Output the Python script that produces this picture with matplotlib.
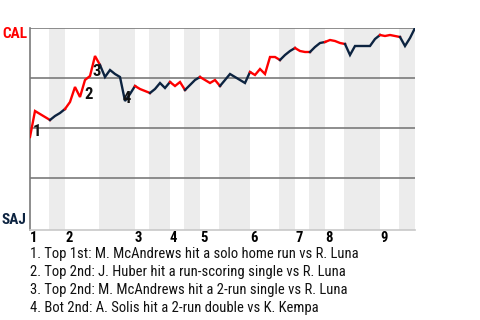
import matplotlib
matplotlib.use('Agg')
import matplotlib.pyplot as plt
from matplotlib import font_manager

# ==================== 数据 ====================
# CAL 胜率 (%)，每个打席一个点
cal_wp = [45.5, 58.5, 57, 55.5, 54, 56, 57.5, 59.5, 63, 70.5,
          65.5, 74, 76, 86, 81.5, 75.5, 79, 77, 75.5, 63.5,
          67, 71, 69.5, 68.5, 67.5, 69.5, 72.5, 70, 73, 71,
          73, 69, 71.5, 74, 75.5, 74, 72.5, 74, 71, 74,
          77, 75.5, 74, 72.5, 78, 76.5, 79.5, 77, 85.5, 85.5,
          84, 86.5, 88.5, 90, 88.5, 88, 88, 90.5, 92.5, 93,
          94, 93.5, 92.5, 92, 86.5, 91, 91, 91, 91, 94.5,
          96.5, 96, 96.5, 96, 95.5, 91, 95, 100]

# 每个半局结束时的打席序号（上半局/下半局交替）
half_inning_ends = [4, 7, 14, 21, 24, 28, 31, 34, 38, 44, 50, 53, 56, 59, 63, 70, 74, 77]
inning_labels = ['1', '2', '3', '4', '5', '6', '7', '8', '9']

# 关键事件：编号、标注所在打席序号
event_ids = ['1', '2', '3', '4']
event_idx = [0, 10, 12, 19]
event_notes = [
    '1. Top 1st: M. McAndrews hit a solo home run vs R. Luna',
    '2. Top 2nd: J. Huber hit a run-scoring single vs R. Luna',
    '3. Top 2nd: M. McAndrews hit a 2-run single vs R. Luna',
    '4. Bot 2nd: A. Solis hit a 2-run double vs K. Kempa',
]

away_team = 'CAL'
home_team = 'SAJ'

# ==================== 样式 ====================
red = '#ff0000'
navy = '#0c2340'
band = '#ececec'
label_offsets = [(5, 4), (6, 1.5), (5, 3), (1.5, 1.5)]   # 标注偏移 (pt)

available = {f.name for f in font_manager.fontManager.ttflist}
family = 'Roboto'
for cand in ['Roboto Condensed', 'Liberation Sans Narrow', 'Roboto']:
    if cand in available:
        family = cand
        break
plt.rcParams['font.family'] = [family, 'DejaVu Sans']

fig = plt.figure(figsize=(4.8, 3.2), dpi=100)
ax = fig.add_axes([30 / 480, 90 / 320, 385 / 480, 202 / 320])

n = len(cal_wp) - 1
ax.set_xlim(0, n)
ax.set_ylim(-1, 100)

# 下半局灰色底纹
starts = [0] + half_inning_ends[:-1]
for k, (s, e) in enumerate(zip(starts, half_inning_ends)):
    if k % 2 == 1:
        ax.axvspan(s - 0.2, e, color=band, lw=0, zorder=0)

for yv in [25, 50, 75, 100]:
    ax.axhline(yv, color='#7a7a7a', lw=1.2, zorder=1)

# 胜率曲线，上半局红色，下半局深蓝
for k, (s, e) in enumerate(zip(starts, half_inning_ends)):
    xs = list(range(s, e + 1))
    ys = cal_wp[s:e + 1]
    ax.plot(xs, ys, color=red if k % 2 == 0 else navy, lw=1.7,
            solid_joinstyle='miter', zorder=3)

for eid, i, off in zip(event_ids, event_idx, label_offsets):
    ax.annotate(eid, (i, cal_wp[i]), xytext=off, textcoords='offset points',
                ha='center', va='center', fontsize=12, fontweight='bold',
                color='#111111', zorder=4)

for sp in ['top', 'right']:
    ax.spines[sp].set_visible(False)
ax.spines['left'].set_color('#7a7a7a')
ax.spines['left'].set_linewidth(1.2)
ax.spines['bottom'].set_color('#c8c8c8')
ax.spines['bottom'].set_linewidth(1.2)

ax.set_yticks([])
top_starts = starts[0::2]
ax.set_xticks(top_starts)
ax.set_xticklabels(inning_labels, fontsize=10.5, fontweight='bold', ha='left')
ax.tick_params(axis='x', length=0, pad=1)

fig.text(2 / 480, 1 - 34 / 320, away_team, color=red, fontsize=11,
         fontweight='bold', va='center', ha='left')
fig.text(2 / 480, 1 - 220 / 320, home_team, color=navy, fontsize=11,
         fontweight='bold', va='center', ha='left')

for j, note in enumerate(event_notes):
    fig.text(30 / 480, 1 - (254 + 18 * j) / 320, note, fontsize=10.5,
             color='#111111', va='center', ha='left')

fig.savefig('out.png', dpi=100)
